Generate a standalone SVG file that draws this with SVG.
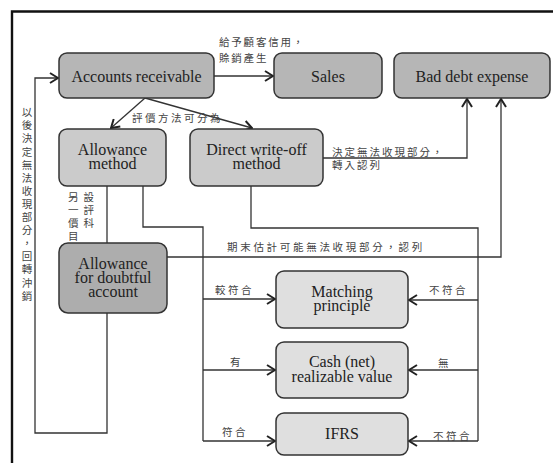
<svg xmlns="http://www.w3.org/2000/svg" width="553" height="463" viewBox="0 0 553 463">
<style>
.n{stroke:#333;stroke-width:1.5}
.d1{fill:#b6b6b6}.d2{fill:#cbcbcb}.d3{fill:#adadad}.d4{fill:#dfdfdf}
.t{font-family:"Liberation Serif","DejaVu Serif",serif;font-size:16px;fill:#222;text-anchor:middle}
.c{font-family:"Noto Sans CJK TC","Noto Sans CJK SC",sans-serif;font-size:10.5px;fill:#444;letter-spacing:2.5px}
.e{fill:none;stroke:#333;stroke-width:1.3}
.a{marker-end:url(#arr)}
</style>
<defs>
<marker id="arr" viewBox="0 0 10 12" refX="9" refY="6" markerWidth="10" markerHeight="12" markerUnits="userSpaceOnUse" orient="auto">
<path d="M1,1 L9,6 L1,11" fill="none" stroke="#222" stroke-width="2"/>
</marker>
</defs>
<rect width="553" height="463" fill="#fff"/>
<path d="M12,463 V11.5 H553" fill="none" stroke="#111" stroke-width="2.4"/>

<g id="connectors">
<path class="e a" d="M214,76 H273"/>
<path class="e a" d="M145,98 L111,128"/>
<path class="e a" d="M145,98 L252,128"/>
<path class="e a" d="M323,158 H467 V99"/>
<path class="e a" d="M167,257 H501 V99"/>
<path class="e" d="M107,186 V243"/>
<path class="e a" d="M107,313 V433 H35 V78 H58"/>
<path class="e" d="M143,186 V227 H203 V441"/>
<path class="e a" d="M203,299 H275"/>
<path class="e a" d="M203,370 H275"/>
<path class="e a" d="M203,441 H275"/>
<path class="e" d="M251,186 V228 H478 V441"/>
<path class="e a" d="M478,300 H409"/>
<path class="e a" d="M478,370 H409"/>
<path class="e a" d="M478,441 H409"/>
</g>

<g id="labels">
<text class="c" x="219" y="46" style="letter-spacing:1.8px"><tspan x="219">給予顧客信用，</tspan><tspan x="219" dy="16">賒銷產生</tspan></text>
<text class="c" x="132" y="122">評價方法可分為</text>
<text class="c" x="332" y="156" style="letter-spacing:2px"><tspan x="332">決定無法收現部分，</tspan><tspan x="332" dy="13">轉入認列</tspan></text>
<text class="c" x="68" y="201" style="letter-spacing:5px"><tspan x="68">另設</tspan><tspan x="68" dy="13">一評</tspan><tspan x="68" dy="13">價科</tspan><tspan x="68" dy="13">目</tspan></text>
<text class="c" x="27" y="107" style="writing-mode:vertical-rl;letter-spacing:2.6px">以後決定無法收現部分，回轉沖銷</text>
<text class="c" x="227" y="251" style="letter-spacing:2.7px">期末估計可能無法收現部分，認列</text>
<text class="c" x="215" y="294">較符合</text>
<text class="c" x="230" y="366">有</text>
<text class="c" x="222" y="436">符合</text>
<text class="c" x="429" y="294">不符合</text>
<text class="c" x="438" y="367">無</text>
<text class="c" x="433" y="440">不符合</text>
</g>

<g id="accounts-receivable">
<rect class="n d1" x="59" y="53" width="155" height="45" rx="8"/>
<text class="t" x="136.5" y="81.5">Accounts receivable</text>
</g>
<g id="sales">
<rect class="n d1" x="274" y="53" width="108" height="45" rx="8"/>
<text class="t" x="328" y="81.5">Sales</text>
</g>
<g id="bad-debt-expense">
<rect class="n d1" x="394" y="53" width="156" height="45" rx="8"/>
<text class="t" x="472" y="81.5">Bad debt expense</text>
</g>
<g id="allowance-method">
<rect class="n d2" x="59" y="129" width="107" height="57" rx="8"/>
<text class="t" x="112.5" y="155"><tspan x="112.5">Allowance</tspan><tspan x="112.5" dy="14">method</tspan></text>
</g>
<g id="direct-write-off-method">
<rect class="n d2" x="190" y="129" width="133" height="57" rx="8"/>
<text class="t" x="256.5" y="155"><tspan x="256.5">Direct write-off</tspan><tspan x="256.5" dy="14">method</tspan></text>
</g>
<g id="allowance-for-doubtful-account">
<rect class="n d3" x="59" y="243" width="108" height="70" rx="9"/>
<text class="t" x="113" y="269"><tspan x="113">Allowance</tspan><tspan x="113" dy="14">for doubtful</tspan><tspan x="113" dy="14">account</tspan></text>
</g>
<g id="matching-principle">
<rect class="n d4" x="276" y="271" width="132" height="57" rx="8"/>
<text class="t" x="342" y="297"><tspan x="342">Matching</tspan><tspan x="342" dy="14">principle</tspan></text>
</g>
<g id="cash-net-realizable-value">
<rect class="n d4" x="276" y="342" width="132" height="56" rx="8"/>
<text class="t" x="342" y="367"><tspan x="342">Cash (net)</tspan><tspan x="342" dy="15">realizable value</tspan></text>
</g>
<g id="ifrs">
<rect class="n d4" x="276" y="413" width="132" height="42" rx="8"/>
<text class="t" x="342" y="439">IFRS</text>
</g>
</svg>
